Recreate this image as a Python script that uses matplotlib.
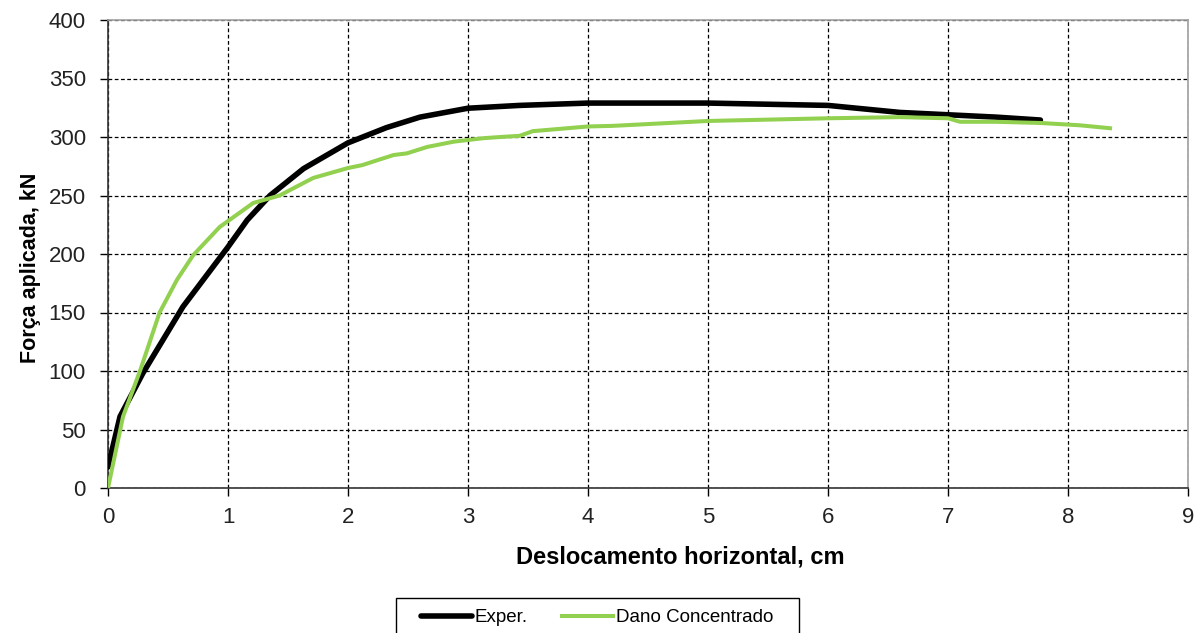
import matplotlib
matplotlib.use("Agg")
import matplotlib.pyplot as plt
from matplotlib.patches import Rectangle

plt.rcParams['font.family'] = ['Liberation Sans', 'DejaVu Sans']

# Experimental curve
exp_x = [0.0, 0.1, 0.29, 0.625, 1.0, 1.16, 1.35, 1.63, 2.0, 2.32, 2.6, 3.0, 3.43,
         4.0, 4.5, 5.0, 5.5, 6.0, 6.3, 6.6, 7.0, 7.4, 7.77]
exp_y = [18, 61, 98, 155, 206, 229, 250, 273, 295, 308, 317, 324.6, 327,
         329, 329, 329, 328, 327, 324, 321, 319, 317, 314.5]

# Dano Concentrado model
mod_x = [0.0, 0.125, 0.27, 0.43, 0.575, 0.71, 0.93, 1.21, 1.43, 1.71, 2.0, 2.12, 2.24,
         2.38, 2.49, 2.66, 2.88, 3.13, 3.27, 3.43, 3.54, 4.0, 4.2, 4.3, 5.0, 6.0, 6.6,
         7.0, 7.1, 7.4, 7.77, 8.1, 8.35]
mod_y = [0, 61, 101, 150, 178, 199, 223, 243.6, 250, 265, 273.5, 276, 280,
         284.6, 286, 291.5, 296, 299, 300, 301, 305, 309, 309.5, 310, 313.7, 316, 317,
         316, 313, 313, 312, 310, 307.5]

x_ticks = list(range(0, 10))
y_ticks = list(range(0, 401, 50))

W, H = 1197, 633
fig = plt.figure(figsize=(W / 100, H / 100), dpi=100)
ax = fig.add_axes([108/W, 1 - 488/H, (1188-108)/W, (488-20)/H])

ax.plot(exp_x, exp_y, color='black', lw=4.0, label='Exper.', zorder=3,
        solid_capstyle='round', solid_joinstyle='round')
ax.plot(mod_x, mod_y, color='#92D050', lw=2.9, label='Dano Concentrado', zorder=4,
        solid_joinstyle='round')

ax.set_xlim(0, 9)
ax.set_ylim(0, 400)
ax.set_xticks(x_ticks)
ax.set_yticks(y_ticks)
ax.tick_params(direction='out', length=5.5, width=1, labelsize=16, colors='black')
ax.tick_params(axis='y', pad=10.5)
ax.tick_params(axis='x', pad=8)
for lab in ax.get_xticklabels() + ax.get_yticklabels():
    lab.set_color('#222222')
ax.grid(True, color='black', linestyle=(0, (3, 2)), linewidth=0.9)
ax.set_axisbelow(True)

for s in ['left', 'bottom']:
    ax.spines[s].set_color('#333333')
    ax.spines[s].set_linewidth(1.2)
for s in ['top', 'right']:
    ax.spines[s].set_color('#a0a0a0')
    ax.spines[s].set_linewidth(1.2)

ax.set_xlabel('Deslocamento horizontal, cm', fontsize=17, fontweight='bold')
ax.xaxis.set_label_coords((680 - 108) / 1080, -(557 - 488) / 468)
ax.xaxis.label.set_va('center')
ax.set_ylabel('Força aplicada, kN', fontsize=15.5, fontweight='bold')
ax.yaxis.set_label_coords(-(108 - 30) / 1080, (488 - 268) / 468)
ax.yaxis.label.set_va('center')

leg = fig.legend(loc='upper center', bbox_to_anchor=(597 / W, 1 - 609 / H),
                 bbox_transform=fig.transFigure, ncol=2, frameon=False,
                 fontsize=13.5, handlelength=2.75, handletextpad=0.15,
                 columnspacing=1.8, borderpad=0.0, borderaxespad=0)

# legend frame drawn with the same asymmetric padding as the reference
fig.canvas.draw()
bb = leg.get_window_extent()
padx = 25
frame_top = H - 598
fig.patches.append(Rectangle((bb.x0 - padx, -5), bb.width + 2 * padx,
                             frame_top + 5, transform=None, fill=False,
                             edgecolor='black', linewidth=1.0, zorder=0))

fig.savefig('out.png', dpi=100)
